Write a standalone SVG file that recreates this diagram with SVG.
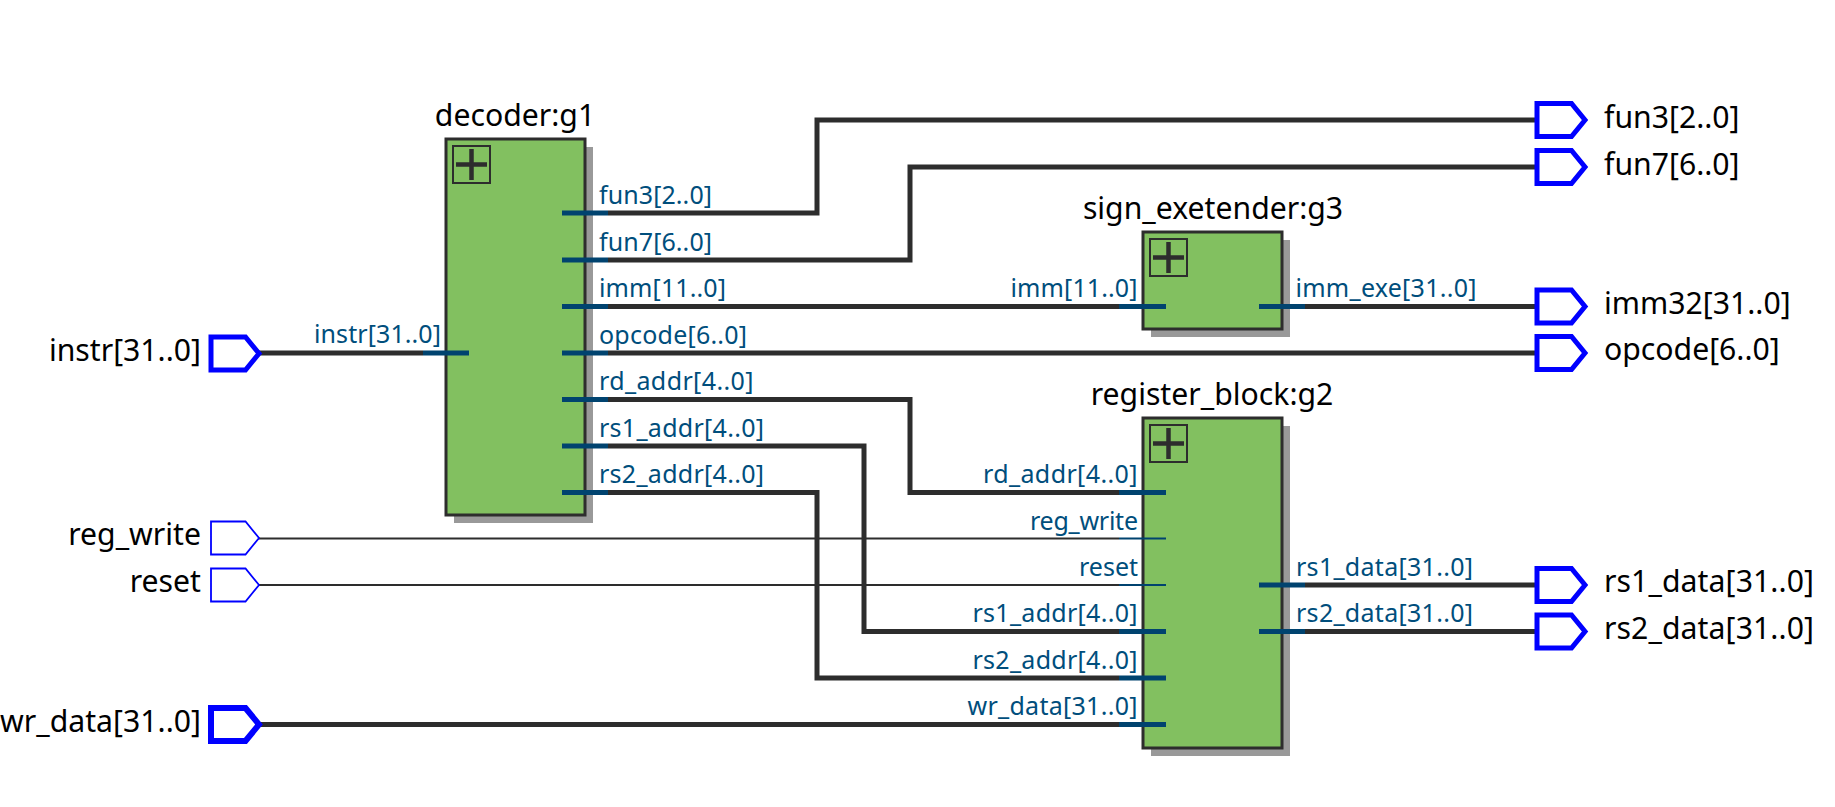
<svg xmlns="http://www.w3.org/2000/svg" width="1835" height="807" viewBox="0 0 1835 807">
<style>
text{font-family:"Noto Sans","Open Sans","DejaVu Sans",sans-serif}
.big{font-size:30.200px;fill:#000}
.sm{font-size:25px;fill:#004e7c}
.r{text-anchor:end}
.body{fill:#82c060;stroke:#2d2d2d;stroke-width:3}
.shadow{fill:#999}
.plusbox{fill:none;stroke:#2d2d2d;stroke-width:2}
.plus{fill:none;stroke:#2d2d2d;stroke-width:4.500}
.bus{fill:none;stroke:#2d2d2d;stroke-width:5}
.wire{fill:none;stroke:#2d2d2d;stroke-width:1.800}
.sb{stroke:#00436f;stroke-width:5;fill:none}
.st{stroke:#00436f;stroke-width:1.800;fill:none}
.pb{fill:#fff;stroke:#00f;stroke-width:5}
.pw{fill:#fff;stroke:#00f;stroke-width:6}
.pt{fill:#fff;stroke:#00f;stroke-width:1.800}
</style>
<defs>
<path id="pin" d="M0-16.500H34.500L48 0 34.500 16.500H0Z"/>
</defs>
<rect width="1835" height="807" fill="#fff"/>
<g id="connectors">
<path class="bus" d="M258 353H423"/>
<path class="wire" d="M258 538.500H1119"/>
<path class="wire" d="M258 585H1119"/>
<path class="bus" d="M258 724.500H1119"/>
<path class="bus" d="M608 213H817V120H1536"/>
<path class="bus" d="M608 260H910V167H1536"/>
<path class="bus" d="M608 306.500H1119"/>
<path class="bus" d="M608 353H1536"/>
<path class="bus" d="M608 399.500H910V492.500H1119"/>
<path class="bus" d="M608 446H864V631.500H1119"/>
<path class="bus" d="M608 492.500H817V678H1119"/>
<path class="bus" d="M1305 306.500H1536"/>
<path class="bus" d="M1305 585H1536"/>
<path class="bus" d="M1305 631.500H1536"/>
</g>
<g id="decoder_g1">
<rect class="shadow" x="454" y="147" width="139" height="376"/>
<rect class="body" x="446" y="139" width="139" height="376"/>
<rect class="plusbox" x="453" y="146" width="37" height="37"/>
<path class="plus" d="M456 164.500H487M471.500 149V180"/>
<path class="sb" d="M423 353H469M562 213H608M562 260H608M562 306.500H608M562 353H608M562 399.500H608M562 446H608M562 492.500H608"/>
<text class="big" x="515" y="126" text-anchor="middle">decoder:g1</text>
<text class="sm" x="314" y="343" textLength="127">instr[31..0]</text>
<text class="sm" x="599" y="204" textLength="113">fun3[2..0]</text>
<text class="sm" x="599" y="250.500" textLength="113">fun7[6..0]</text>
<text class="sm" x="599" y="297" textLength="127">imm[11..0]</text>
<text class="sm" x="599" y="343.500" textLength="148">opcode[6..0]</text>
<text class="sm" x="599" y="390" textLength="154.500">rd_addr[4..0]</text>
<text class="sm" x="599" y="436.500" textLength="165">rs1_addr[4..0]</text>
<text class="sm" x="599" y="483" textLength="165">rs2_addr[4..0]</text>
</g>
<g id="sign_exetender_g3">
<rect class="shadow" x="1151" y="240" width="139" height="97"/>
<rect class="body" x="1143" y="232" width="139" height="97"/>
<rect class="plusbox" x="1150" y="239" width="37" height="37"/>
<path class="plus" d="M1153 257.500H1184M1168.500 242V273"/>
<path class="sb" d="M1119 306.500H1166M1259 306.500H1305"/>
<text class="big" x="1213" y="219" text-anchor="middle">sign_exetender:g3</text>
<text class="sm" x="1010.500" y="297" textLength="127">imm[11..0]</text>
<text class="sm" x="1295.500" y="297" textLength="181">imm_exe[31..0]</text>
</g>
<g id="register_block_g2">
<rect class="shadow" x="1151" y="426" width="139" height="330"/>
<rect class="body" x="1143" y="418" width="139" height="330"/>
<rect class="plusbox" x="1150" y="425" width="37" height="37"/>
<path class="plus" d="M1153 443.500H1184M1168.500 428V459"/>
<path class="sb" d="M1119 492.500H1166M1119 631.500H1166M1119 678H1166M1119 724.500H1166M1259 585H1305M1259 631.500H1305"/>
<path class="st" d="M1119 538.500H1166M1119 585H1166"/>
<text class="big" x="1212" y="405" text-anchor="middle">register_block:g2</text>
<text class="sm" x="983" y="483" textLength="154.500">rd_addr[4..0]</text>
<text class="sm" x="1030" y="529.500" textLength="108">reg_write</text>
<text class="sm" x="1079" y="576">reset</text>
<text class="sm" x="972.500" y="622" textLength="165">rs1_addr[4..0]</text>
<text class="sm" x="972.500" y="668.500" textLength="165">rs2_addr[4..0]</text>
<text class="sm" x="967.500" y="715" textLength="170">wr_data[31..0]</text>
<text class="sm" x="1296" y="576" textLength="177">rs1_data[31..0]</text>
<text class="sm" x="1296" y="622" textLength="177">rs2_data[31..0]</text>
</g>
<g id="in_instr"><use href="#pin" class="pb" x="211" y="353.500"/><text class="big r" x="201" y="361">instr[31..0]</text></g>
<g id="in_reg_write"><use href="#pin" class="pt" x="211" y="538"/><text class="big r" x="201" y="545">reg_write</text></g>
<g id="in_reset"><use href="#pin" class="pt" x="211" y="585"/><text class="big r" x="201" y="592">reset</text></g>
<g id="in_wr_data"><use href="#pin" class="pw" x="211" y="724.500"/><text class="big" x="0" y="732" textLength="201">wr_data[31..0]</text></g>
<g id="out_fun3"><use href="#pin" class="pb" x="1537" y="120"/><text class="big" x="1604" y="127.500">fun3[2..0]</text></g>
<g id="out_fun7"><use href="#pin" class="pb" x="1537" y="167"/><text class="big" x="1604" y="174.500">fun7[6..0]</text></g>
<g id="out_imm32"><use href="#pin" class="pb" x="1537" y="306.500"/><text class="big" x="1604" y="314">imm32[31..0]</text></g>
<g id="out_opcode"><use href="#pin" class="pb" x="1537" y="353"/><text class="big" x="1604" y="360">opcode[6..0]</text></g>
<g id="out_rs1_data"><use href="#pin" class="pb" x="1537" y="585"/><text class="big" x="1604" y="592" textLength="210">rs1_data[31..0]</text></g>
<g id="out_rs2_data"><use href="#pin" class="pb" x="1537" y="631.500"/><text class="big" x="1604" y="639" textLength="210">rs2_data[31..0]</text></g>
</svg>
